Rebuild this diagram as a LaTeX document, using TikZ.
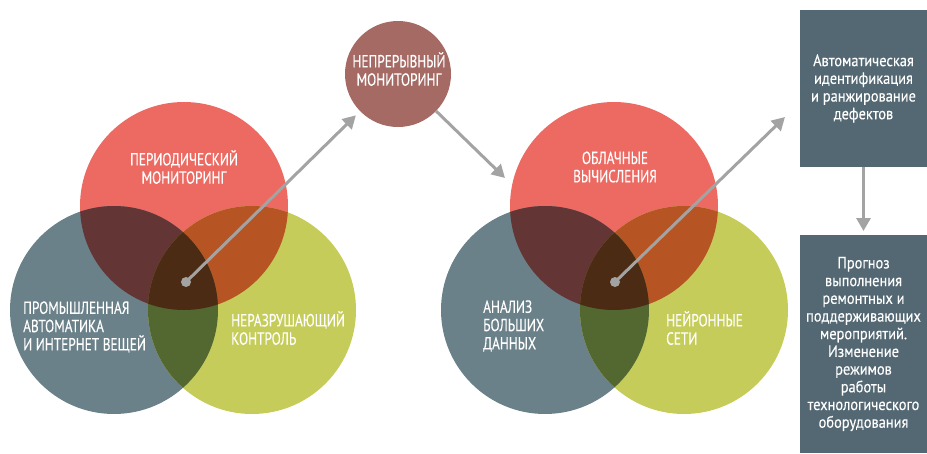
\documentclass[tikz,border=0pt]{standalone}
\usepackage{fontspec}
\setmainfont[FakeStretch=0.76, FakeBold=0.3]{PT Sans}
\newfontfamily\boxfont[FakeStretch=0.88, FakeBold=0.3]{PT Sans}
\usetikzlibrary{arrows.meta}

\definecolor{cred}{HTML}{EC6A62}
\definecolor{cgray}{HTML}{6B818A}
\definecolor{cyel}{HTML}{C5CC5A}
\definecolor{credgray}{HTML}{633635}
\definecolor{credyel}{HTML}{B65523}
\definecolor{cgrayyel}{HTML}{536731}
\definecolor{call}{HTML}{4B2B13}
\definecolor{cbrown}{HTML}{A56A63}
\definecolor{cbox}{HTML}{536872}
\definecolor{carrow}{HTML}{A3A3A3}

\tikzset{
  vcircle/.style={circle, minimum size=208pt, inner sep=0pt, outer sep=0pt},
  caps/.style={text=white, font=\fontsize{17.5}{18.3}\selectfont, inner sep=0pt},
  boxtext/.style={text=white, font=\boxfont\fontsize{16.4}{17.7}\selectfont, align=center},
  infobox/.style={rectangle, fill=cbox, minimum width=127pt, inner sep=0pt, outer sep=0pt},
  pointer/.style={draw=carrow, line width=3pt, -{Triangle[length=13pt,width=14pt]}},
  dot/.style={circle, fill=carrow, minimum size=10pt, inner sep=0pt},
}

\begin{document}
\begin{tikzpicture}[x=1pt,y=-1pt]
\useasboundingbox (0,0) rectangle (927,453);

% ---- left Venn diagram ----
\node[vcircle, fill=cred]  (lr) at (184,206) {};
\node[vcircle, fill=cgray] (lg) at (114,310) {};
\node[vcircle, fill=cyel]  (ly) at (252,310) {};
\begin{scope}
  \clip (lr.center) circle[radius=104];
  \fill[credgray] (lg.center) circle[radius=104];
  \fill[credyel] (ly.center) circle[radius=104];
\end{scope}
\begin{scope}
  \clip (lg.center) circle[radius=104];
  \fill[cgrayyel] (ly.center) circle[radius=104];
\end{scope}
\begin{scope}
  \clip (lr.center) circle[radius=104];
  \clip (lg.center) circle[radius=104];
  \fill[call] (ly.center) circle[radius=104];
\end{scope}

% ---- right Venn diagram ----
\node[vcircle, fill=cred]  (rr) at (614,206) {};
\node[vcircle, fill=cgray] (rg) at (545,310) {};
\node[vcircle, fill=cyel]  (ry) at (684,310) {};
\begin{scope}
  \clip (rr.center) circle[radius=104];
  \fill[credgray] (rg.center) circle[radius=104];
  \fill[credyel] (ry.center) circle[radius=104];
\end{scope}
\begin{scope}
  \clip (rg.center) circle[radius=104];
  \fill[cgrayyel] (ry.center) circle[radius=104];
\end{scope}
\begin{scope}
  \clip (rr.center) circle[radius=104];
  \clip (rg.center) circle[radius=104];
  \fill[call] (ry.center) circle[radius=104];
\end{scope}

% ---- continuous monitoring ----
\node[circle, fill=cbrown, minimum size=106pt, inner sep=0pt, outer sep=0pt] (cont) at (398,74) {};

% ---- boxes ----
\node[infobox, minimum height=157pt] (box1) at (863.5,88.5) {};
\node[infobox, minimum height=218pt] (box2) at (863.5,344) {};

% ---- connectors ----
\node[dot] (ldot) at (186,282) {};
\node[dot] (rdot) at (615,282) {};
\coordinate (rtip) at (785,117);
\coordinate (ctip) at (505,178);
\draw[pointer, shorten >=6pt] (ldot.center) -- (cont);
\draw[pointer] (rdot.center) -- (rtip);
\draw[pointer] (cont) -- (ctip);
\draw[pointer, shorten >=4pt] (box1) -- (box2);

% ---- labels ----
\node[caps, align=center] (tlr) at (184,167) {ПЕРИОДИЧЕСКИЙ\\МОНИТОРИНГ};
\node[caps, align=left, anchor=west] (tlg) at (23,327) {ПРОМЫШЛЕННАЯ\\АВТОМАТИКА\\И ИНТЕРНЕТ ВЕЩЕЙ};
\node[caps, align=left, anchor=west] (tly) at (231,328) {НЕРАЗРУШАЮЩИЙ\\КОНТРОЛЬ};
\node[caps, align=center] (tc) at (399,69) {НЕПРЕРЫВНЫЙ\\МОНИТОРИНГ};
\node[caps, align=center] (trr) at (615,167) {ОБЛАЧНЫЕ\\ВЫЧИСЛЕНИЯ};
\node[caps, align=left, anchor=west] (trg) at (483,326) {АНАЛИЗ\\БОЛЬШИХ\\ДАННЫХ};
\node[caps, align=left, anchor=west] (try) at (666,328) {НЕЙРОННЫЕ\\СЕТИ};

\node[boxtext] (tb1) at (box1) {Автоматическая\\идентификация\\и ранжирование\\дефектов};
\node[boxtext] (tb2) at (box2) {Прогноз\\выполнения\\ремонтных и\\поддерживающих\\мероприятий.\\Изменение\\режимов\\работы\\технологического\\оборудования};
\end{tikzpicture}
\end{document}
